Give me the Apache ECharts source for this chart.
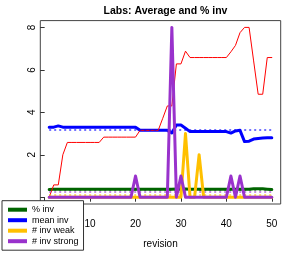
<!DOCTYPE html>
<html><head><meta charset="utf-8">
<script src="https://cdn.jsdelivr.net/npm/echarts@6/dist/echarts.min.js"></script>
<style>html,body{margin:0;padding:0;background:#fff}#c{width:294px;height:254px}</style>
</head><body><div id="c"></div>
<script>
const revision = [1,2,3,4,5,6,7,8,9,10,11,12,13,14,15,16,17,18,19,20,21,22,23,24,25,26,27,28,29,30,31,32,33,34,35,36,37,38,39,40,41,42,43,44,45,46,47,48,49,50];
const pctInv = [0.36,0.38,0.38,0.38,0.38,0.38,0.38,0.38,0.38,0.38,0.38,0.38,0.38,0.38,0.38,0.38,0.38,0.38,0.38,0.38,0.38,0.38,0.38,0.38,0.38,0.38,0.38,0.38,0.39,0.39,0.39,0.38,0.38,0.38,0.38,0.38,0.38,0.38,0.38,0.38,0.38,0.38,0.38,0.38,0.38,0.40,0.40,0.40,0.38,0.36];
const meanInv = [3.30,3.30,3.36,3.30,3.30,3.30,3.30,3.30,3.30,3.30,3.30,3.30,3.30,3.30,3.30,3.30,3.30,3.30,3.30,3.30,3.15,3.15,3.15,3.15,3.15,3.15,3.15,3.03,3.40,3.40,3.25,3.09,3.09,3.09,3.09,3.09,3.09,3.09,3.09,3.09,3.02,3.12,3.15,2.62,2.64,2.74,2.77,2.79,2.80,2.80];
const maxInv = [0,0.58,0.58,2.0,2.58,2.58,2.58,2.58,2.58,2.58,2.58,2.58,2.83,2.83,2.83,2.83,2.83,2.83,2.83,2.83,3.15,3.15,3.15,3.15,3.15,3.72,4.3,4.3,6.28,6.28,6.88,6.58,6.58,6.58,6.58,6.58,6.58,6.58,6.58,6.58,6.85,7.15,7.75,8.0,8.0,6.42,4.85,4.85,6.58,6.58];
const invWeak = [0,0,0,0,0,0,0,0,0,0,0,0,0,0,0,0,0,0,0,0,0,0,0,0,0,0,0,0,0,0,3,0,0,2,0,0,0,0,0,0,0,0,0,0,0,0,0,0,0,0];
const invStrong = [0,0,0,0,0,0,0,0,0,0,0,0,0,0,0,0,0,0,0,1,0,0,0,0,0,0,0,8,0,1,0,0,0,0,0,0,0,0,0,0,1,0,1,0,0,0,0,0,0,0];
const meanLevels = [0.37, 3.16, 0.13, 0.24]; // % inv, mean inv, # inv weak, # inv strong
const xTicks = [0,10,20,30,40,50];
const yTicks = [0,2,4,6,8];
const yLabels = [2,4,6,8];
const names = ['% inv','mean inv','# inv weak','# inv strong'];
const colors = ['#006400','#0000ff','#ffc000','#9932cc'];

const pairs = arr => arr.map((v,i)=>[revision[i], v]);
const font = 'Liberation Sans, Arial, sans-serif';

function meanLine(idx){
  return {
    silent:true, symbol:'none', label:{show:false},
    lineStyle:{type:[2,3], width:2, color:colors[idx], opacity:0.55},
    data:[[{coord:[revision[0], meanLevels[idx]]},{coord:[revision[revision.length-1], meanLevels[idx]]}]]
  };
}
function mkSeries(name, data, color, width, z, idx){
  const s = {name, type:'line', data:pairs(data), symbol:'none', z,
    lineStyle:{color, width, cap:'round', join:'round'}, itemStyle:{color}, animation:false};
  if (idx !== undefined) s.markLine = meanLine(idx);
  return s;
}
const chart = echarts.init(document.getElementById('c'), null, {renderer:'canvas'});
chart.setOption({
  animation:false,
  title:{text:'Labs: Average and % inv', left:160.5, top:1, textAlign:'center',
    textStyle:{fontFamily:font, fontSize:10.5, fontWeight:'bold', color:'#000'}},
  grid:{left:40.3, right:13.3, top:20.6, bottom:41.2, show:true, borderColor:'#444', borderWidth:1, backgroundColor:'transparent'},
  xAxis:{type:'value', min:-0.96, max:51.96, name:'revision', nameLocation:'middle', nameGap:35,
    nameTextStyle:{fontFamily:font, fontSize:10, color:'#000'},
    axisLine:{show:false}, splitLine:{show:false},
    axisTick:{show:true, length:4.5, lineStyle:{color:'#333'}, customValues:xTicks},
    axisLabel:{fontFamily:font, fontSize:10, color:'#000', margin:15, customValues:xTicks}},
  yAxis:{type:'value', min:-0.32, max:8.32,
    axisLine:{show:false}, splitLine:{show:false},
    axisTick:{show:true, length:4.5, lineStyle:{color:'#333'}, customValues:yTicks},
    axisLabel:{fontFamily:font, fontSize:10, color:'#000', margin:3, rotate:90, customValues:yLabels}},
  legend:{data:names, orient:'vertical', left:2, top:200.7, padding:[4,5,4,6], itemGap:0.5,
    itemWidth:19, itemHeight:4, icon:'rect', backgroundColor:'#fff', borderColor:'#333', borderWidth:1, borderRadius:0,
    textStyle:{fontFamily:font, fontSize:9, color:'#000', lineHeight:10}, z:10, selectedMode:false},
  series:[
    mkSeries('% inv', pctInv, colors[0], 3, 2, 0),
    mkSeries('mean inv', meanInv, colors[1], 3, 3, 1),
    mkSeries('max inv', maxInv, '#ff0000', 1, 4),
    mkSeries('# inv weak', invWeak, colors[2], 3, 5, 2),
    mkSeries('# inv strong', invStrong, colors[3], 3, 6, 3)
  ]
});
</script></body></html>
